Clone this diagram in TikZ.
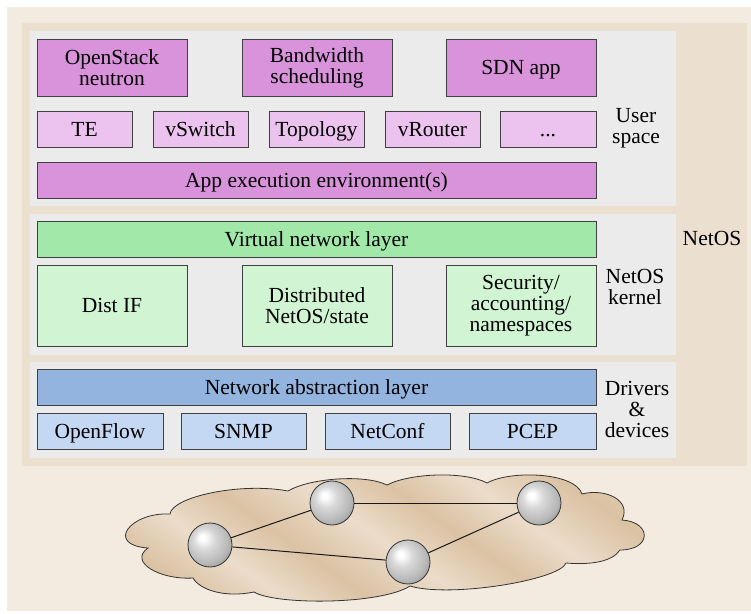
\documentclass[tikz,border=0pt]{standalone}
\usepackage{fontspec}
\setmainfont{Liberation Serif}

\definecolor{pagebg}{HTML}{F3EBE0}
\definecolor{netosbg}{HTML}{EBDFD0}
\definecolor{panelbg}{HTML}{EBEBEB}
\definecolor{appdark}{HTML}{D993DB}
\definecolor{applight}{HTML}{ECC3EE}
\definecolor{kerneldark}{HTML}{A1E8A9}
\definecolor{kernellight}{HTML}{D1F4D3}
\definecolor{drvdark}{HTML}{93B4DF}
\definecolor{drvlight}{HTML}{C4D7F3}
\definecolor{sanddark}{HTML}{DBC2A3}
\definecolor{sandlight}{HTML}{EBDCCA}

% streaky fill for the network cloud
\pgfdeclarehorizontalshading{sand}{100bp}{color(0bp)=(sanddark);
  color(25bp)=(sanddark); color(33bp)=(sandlight); color(41bp)=(sanddark);
  color(50bp)=(sandlight); color(58bp)=(sanddark); color(66bp)=(sandlight);
  color(75bp)=(sanddark); color(100bp)=(sandlight)}
% grey balls for the hosts
\pgfdeclareradialshading{sphere}{\pgfpoint{-9bp}{9bp}}{color(0bp)=(white);
  color(3bp)=(white); color(12bp)=(black!15); color(25bp)=(black!28);
  color(36bp)=(black!46); color(50bp)=(black!52)}

\begin{document}
\begin{tikzpicture}[
    x=1pt, y=-1pt,
    every node/.style={font=\fontsize{21.5}{21}\selectfont},
    box/.style={draw=black!75, line width=0.8pt, inner sep=0pt, align=center},
    oneline/.style={text height=19.5pt, text depth=5.5pt},
    app/.style={box, fill=appdark, minimum width=150pt, minimum height=57pt},
    svc/.style={box, oneline, fill=applight, minimum width=95pt, minimum height=36pt},
    wide/.style={box, oneline, minimum width=559pt, minimum height=36pt},
    kern/.style={box, fill=kernellight, minimum width=150pt, minimum height=81pt},
    drv/.style={box, oneline, fill=drvlight, minimum height=36pt},
    side/.style={align=center, inner sep=0pt},
    host/.style={circle, draw=black!80, line width=0.8pt, inner sep=0pt,
        minimum size=44pt, shading=sphere},
    link/.style={draw=black!90, line width=1pt}
]

\useasboundingbox (0,0) rectangle (751,613);

% layered backgrounds
\fill[pagebg] (7,7) rectangle (751,611);
\fill[netosbg] (22,23) rectangle (747,466);
\fill[panelbg] (30,31) rectangle (676,206);
\fill[panelbg] (30,214) rectangle (676,355);
\fill[panelbg] (30,362) rectangle (676,458);

% user space
\node[app] (osn) at (112,67.5) {OpenStack\\neutron};
\node[app] (bws) at (317,67.5) {Bandwidth\\scheduling};
\node[app, oneline] (sdn) at (521,67.5) {SDN app};

\node[svc] (te)   at (84.5,129)  {TE};
\node[svc] (vsw)  at (200.5,129) {vSwitch};
\node[svc] (topo) at (316.5,129) {Topology};
\node[svc] (vrt)  at (432.5,129) {vRouter};
\node[svc, minimum width=96pt] (more) at (548,129) {...};

\node[wide, fill=appdark] (appenv) at (316.5,180) {App execution environment(s)};

% kernel
\node[wide, fill=kerneldark] (vnl) at (316.5,239) {Virtual network layer};
\node[kern, oneline] (distif) at (112,305.5) {Dist IF};
\node[kern] (dstate) at (317,305.5) {Distributed\\NetOS/state};
\node[kern] (secur)  at (521,305.5) {Security/\\accounting/\\namespaces};

% drivers
\node[wide, fill=drvdark] (nal) at (316.5,387) {Network abstraction layer};
\node[drv, minimum width=126pt] (oflow) at (100,431)   {OpenFlow};
\node[drv, minimum width=125pt] (snmp)  at (243.5,431) {SNMP};
\node[drv, minimum width=125pt] (ncf)   at (387.5,431) {NetConf};
\node[drv, minimum width=127pt] (pcep)  at (532.5,431) {PCEP};

% layer captions
\node[side] (usrlbl) at (636,128) {User\\space};
\node[side] (krnlbl) at (635,287) {NetOS\\kernel};
\node[side] (drvlbl) at (637,409) {Drivers\\\&\\devices};
\node[side, oneline] (oslbl) at (712,238) {NetOS};

% physical network cloud
\shadedraw[shading=sand, shading angle=55, draw=black!80, line width=0.8pt]
    (170,514) .. controls (172,497) and (240,482) .. (288,491)
    .. controls (310,478) and (365,474) .. (387,485)
    .. controls (410,473) and (465,471) .. (487,483)
    .. controls (510,470) and (575,472) .. (582,494)
    .. controls (605,488) and (632,500) .. (622,520)
    .. controls (652,522) and (652,550) .. (620,550)
    .. controls (612,562) and (590,565) .. (566,563)
    .. controls (560,580) and (450,598) .. (410,586)
    .. controls (380,605) and (275,605) .. (254,592)
    .. controls (225,598) and (200,590) .. (193,578)
    .. controls (160,580) and (128,562) .. (148,548)
    .. controls (105,545) and (130,512) .. (170,514) -- cycle;

\node[host] (h1) at (210,545) {};
\node[host] (h2) at (332,503) {};
\node[host] (h3) at (408,562) {};
\node[host] (h4) at (539,503) {};

\draw[link] (h1) -- (h2);
\draw[link] (h1) -- (h3);
\draw[link] (h2) -- (h4);
\draw[link] (h3) -- (h4);

\end{tikzpicture}
\end{document}
